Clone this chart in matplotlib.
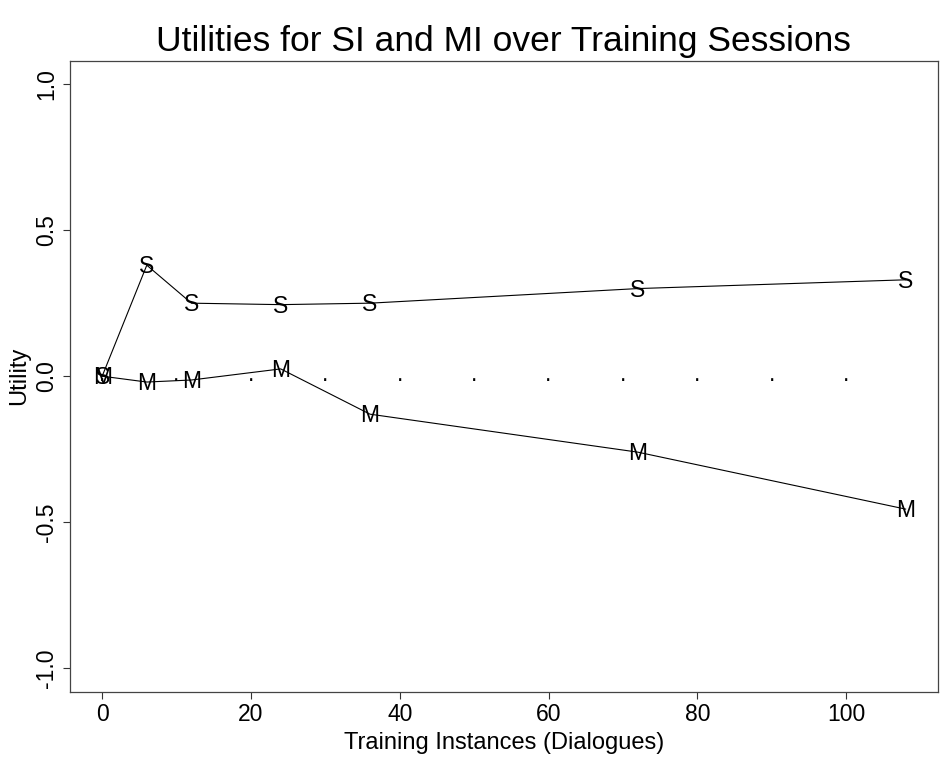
import matplotlib
matplotlib.use("Agg")
import matplotlib.pyplot as plt

plt.rcParams["font.family"] = ["Liberation Sans", "DejaVu Sans"]

# Training instances (dialogues)
sessions = [0, 6, 12, 24, 36, 72, 108]
# Utilities for SI ("S") and MI ("M")
si_utility = [0.00, 0.38, 0.25, 0.245, 0.25, 0.30, 0.33]
mi_utility = [0.00, -0.02, -0.013, 0.025, -0.13, -0.26, -0.455]
# dotted zero reference
ref_x = [0, 10, 20, 30, 40, 50, 60, 70, 80, 90, 100]
ref_y = [0] * len(ref_x)

fig = plt.figure(figsize=(9.4, 7.61), dpi=100)
ax = fig.add_axes([0.0745, 0.0911, 0.9231, 0.8291])

fs = 16.5
cap = fs * 0.716 / 2

for ys, letter in [(si_utility, "S"), (mi_utility, "M")]:
    ax.plot(sessions, ys, color="black", linewidth=0.8)
    for x, y in zip(sessions, ys):
        ax.annotate(letter, (x, y), xytext=(0, -cap), textcoords="offset points",
                    ha="center", va="baseline", fontsize=fs)

for x, y in zip(ref_x, ref_y):
    ax.annotate(".", (x, y), xytext=(0, -3.5), textcoords="offset points",
                ha="center", va="baseline", fontsize=fs)

ax.set_xlim(-4.32, 112.32)
ax.set_ylim(-1.08, 1.08)
ax.set_xticks([0, 20, 40, 60, 80, 100])
ax.set_yticks([-1.0, -0.5, 0.0, 0.5, 1.0])
ax.set_yticklabels(["-1.0", "-0.5", "0.0", "0.5", "1.0"], rotation=90, va="center")
ax.tick_params(labelsize=fs, length=5, width=0.8, color="#333333")

for sp in ax.spines.values():
    sp.set_color("#444444")
    sp.set_linewidth(0.9)

ax.set_xlabel("Training Instances (Dialogues)", fontsize=17, labelpad=4)
ax.set_ylabel("Utility", fontsize=17, labelpad=4)
ax.set_title("Utilities for SI and MI over Training Sessions", fontsize=25.5, pad=7)

fig.savefig("out.png", dpi=100)
